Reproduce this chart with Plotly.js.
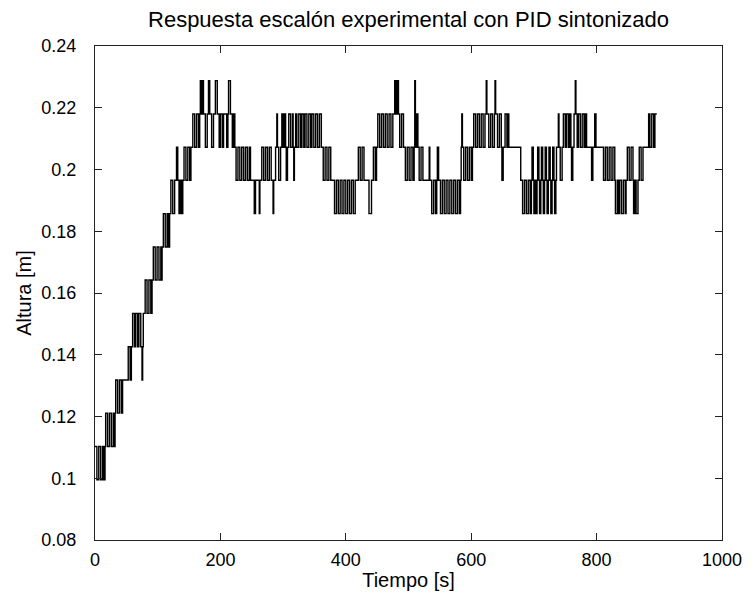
<!DOCTYPE html>
<html>
<head>
<meta charset="utf-8">
<script src="https://cdn.plot.ly/plotly-3.0.1.min.js"></script>
<style>html,body{margin:0;padding:0;background:#fff;}#chart{width:752px;height:601px;}</style>
</head>
<body>
<div id="chart"></div>
<script>
// Quantized sensor levels [m]
const levels = [0.0995, 0.1103, 0.1211, 0.1318, 0.1426, 0.1534, 0.1642, 0.1749, 0.1857, 0.1965, 0.2072, 0.2180, 0.2288];

// [time s, level index] at each instant where the measured height changes level
const stepRecord = [
 [0,1],[3,0],[6,1],[9,0],[12,1],[14,0],[16,1],[17,2],[20,1],[23,2],[26,1],[29,2],[31,1],
 [32,2],[33,3],[36,2],[39,3],[42,2],[44,3],
 [53,4],[56,3],[58,4],[60,5],[63,4],[65,5],[68,4],[70,5],[73,4],[75,3],[76,4],[77,5],
 [80,6],[83,5],[86,6],[89,5],[91,6],
 [93,7],[96,6],[99,7],[102,6],[105,7],[106,6],[107,7],
 [109,8],[112,7],[115,8],[117,7],[119,8],
 [121,9],[124,8],[127,9],
 [130,10],[132,9],[134,8],[136,9],[138,8],[140,9],[142,10],[145,9],[148,10],[151,9],[153,10],
 [156,11],[159,10],[162,11],[165,10],[167,11],[168,12],[170,11],[172,12],[173,11],[176,10],[179,11],
 [181,12],[183,11],[186,10],[189,11],[192,12],[195,11],[198,10],[200,11],[203,10],[205,11],
 [210,10],[212,11],[213,12],[216,11],[219,10],[221,11],[223,10],[225,9],[228,10],[231,9],[234,10],
 [237,9],[240,10],[243,9],[246,10],[248,9],[254,8],[256,9],[262,8],[263,9],[266,10],[269,9],
 [272,10],[275,9],[278,10],[281,9],[284,8],[285,9],[288,10],[290,11],[291,10],[293,9],[296,10],
 [298,11],[300,10],[302,11],[304,10],[305,9],[307,10],[309,11],[312,10],[315,11],[316,10],[317,9],
 [318,10],[320,11],[322,10],[325,11],[328,10],[330,11],[333,10],[335,11],[338,10],[341,11],[344,10],
 [346,11],[349,10],[352,11],[355,10],[358,11],[361,10],[364,9],[367,10],[370,9],[373,10],[376,9],
 [382,8],[385,9],[388,8],[391,9],[394,8],[397,9],[400,8],[403,9],[406,8],[409,9],[412,8],[415,9],
 [420,10],[423,9],[426,10],[429,9],[437,8],[441,9],[444,10],[447,9],[449,10],[451,11],[454,10],
 [457,11],[460,10],[463,11],[466,10],[469,11],[472,10],[475,11],[478,12],[480,11],[482,12],[484,11],
 [486,10],[489,11],[492,10],[495,9],[498,10],[501,9],[504,10],[507,9],[509,10],[510,12],[511,10],
 [513,11],[515,10],[517,9],[520,10],[523,9],[533,10],[534,9],[537,8],[540,9],[543,8],[545,9],
 [546,10],[548,9],[551,8],[554,9],[557,8],[560,9],[563,8],[566,9],[569,8],[572,9],[575,8],[578,9],
 [581,8],[583,9],[584,10],[585,11],[586,10],[588,9],[591,10],[594,9],[597,10],[600,9],[602,10],
 [604,11],[607,10],[610,11],[613,10],[616,11],[619,10],[622,11],[624,12],[625,11],[628,10],[631,11],
 [634,10],[637,11],[638,12],[639,11],[642,10],[645,11],[648,10],[649,9],[651,10],[654,11],[657,10],
 [659,11],[660,10],
 [679,9],[682,8],[685,9],[688,8],[691,9],[694,8],[696,9],[697,10],[699,9],[700,8],[702,9],[703,8],
 [705,9],[706,10],[708,9],[709,8],[711,9],[712,10],[714,9],[715,8],[717,9],[718,10],[720,9],[721,8],
 [723,9],[724,10],[726,9],[727,8],[729,9],[730,10],[732,9],[733,8],[735,9],[736,10],[739,11],[740,10],
 [742,9],[745,10],[747,11],[750,10],[752,11],[755,10],[757,11],[759,10],[760,9],[762,10],[764,11],
 [766,12],[767,11],[769,10],[771,11],[774,10],[777,11],[780,10],[782,11],[784,10],
 [792,9],[794,10],[797,11],[799,10],
 [811,9],[814,10],[817,9],[820,10],[823,9],[826,10],[829,9],[830,8],[833,9],[835,8],[837,9],[840,8],
 [843,9],[846,8],[847,9],[849,10],[852,9],[855,10],[858,9],[859,8],[861,9],[863,8],[866,9],[868,10],
 [871,9],[874,10],[883,11],[885,10],[888,11],[891,10],[893,11],[896,11]
];

const stepTimes = stepRecord.map(p => p[0]);
const heights = stepRecord.map(p => levels[p[1]]);

const xTicks = [0, 200, 400, 600, 800, 1000];
const yTicks = [0.08, 0.1, 0.12, 0.14, 0.16, 0.18, 0.2, 0.22, 0.24];

const font = 'Liberation Sans, Arial, Helvetica, sans-serif';

const trace = {
  x: stepTimes,
  y: heights,
  type: 'scatter',
  mode: 'lines',
  line: {color: '#000000', width: 1.4, shape: 'hv'},
  hoverinfo: 'skip'
};

const axisCommon = {
  showline: true, linecolor: '#222222', linewidth: 1,
  mirror: 'ticks', ticks: 'inside', ticklen: 7, tickwidth: 1, tickcolor: '#222222',
  showgrid: false, zeroline: false,
  tickfont: {family: font, size: 18, color: '#000000'}
};

const layout = {
  width: 752, height: 601,
  margin: {l: 95, r: 30, t: 46, b: 61},
  paper_bgcolor: '#ffffff', plot_bgcolor: '#ffffff',
  showlegend: false,
  title: {text: 'Respuesta escalón experimental con PID sintonizado',
          font: {family: font, size: 22, color: '#000000'},
          x: 0.5, xref: 'paper', xanchor: 'center', y: 1 - 19/601, yref: 'container', yanchor: 'middle'},
  xaxis: Object.assign({}, axisCommon, {
    range: [0, 1000], tickmode: 'array', tickvals: xTicks, ticklabelstandoff: 3,
    title: {text: 'Tiempo [s]', font: {family: font, size: 20, color: '#000000'}, standoff: 4}
  }),
  yaxis: Object.assign({}, axisCommon, {
    range: [0.08, 0.24], tickmode: 'array', tickvals: yTicks, ticklabelstandoff: 14,
    title: {text: 'Altura [m]', font: {family: font, size: 20, color: '#000000'}, standoff: 4}
  })
};

Plotly.newPlot('chart', [trace], layout, {displayModeBar: false, staticPlot: true});
</script>
</body>
</html>
